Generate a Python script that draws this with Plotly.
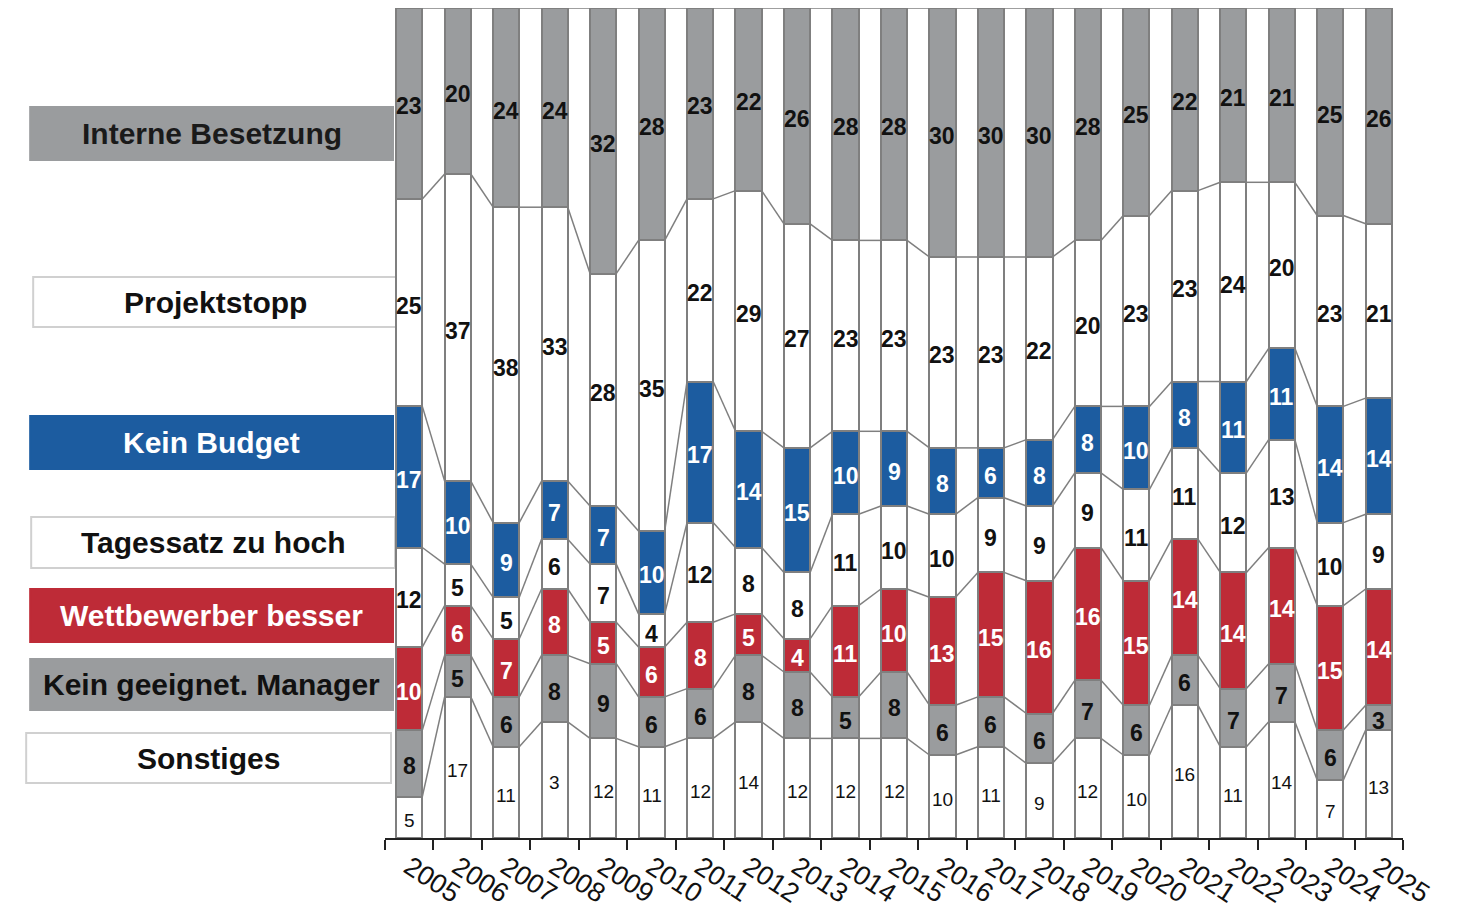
import plotly.graph_objects as go

# ---------------- data (bottom -> top) ----------------
years = [str(y) for y in range(2005, 2026)]
sonstiges = [5, 17, 11, 14, 12, 11, 12, 14, 12, 12, 12, 10, 11, 9, 12, 10, 16, 11, 14, 7, 13]
sonstiges_labels = ["5", "17", "11", "3", "12", "11", "12", "14", "12", "12", "12",
                    "10", "11", "9", "12", "10", "16", "11", "14", "7", "13"]
manager = [8, 5, 6, 8, 9, 6, 6, 8, 8, 5, 8, 6, 6, 6, 7, 6, 6, 7, 7, 6, 3]
wettbewerber = [10, 6, 7, 8, 5, 6, 8, 5, 4, 11, 10, 13, 15, 16, 16, 15, 14, 14, 14, 15, 14]
tagessatz = [12, 5, 5, 6, 7, 4, 12, 8, 8, 11, 10, 10, 9, 9, 9, 11, 11, 12, 13, 10, 9]
budget = [17, 10, 9, 7, 7, 10, 17, 14, 15, 10, 9, 8, 6, 8, 8, 10, 8, 11, 11, 14, 14]
projektstopp = [25, 37, 38, 33, 28, 35, 22, 29, 27, 23, 23, 23, 23, 22, 20, 23, 23, 24, 20, 23, 21]
interne = [23, 20, 24, 24, 32, 28, 23, 22, 26, 28, 28, 30, 30, 30, 28, 25, 22, 21, 21, 25, 26]

series_names = ["Sonstiges", "Kein geeignet. Manager", "Wettbewerber besser",
                "Tagessatz zu hoch", "Kein Budget", "Projektstopp", "Interne Besetzung"]
series_values = [sonstiges, manager, wettbewerber, tagessatz, budget, projektstopp, interne]

# ---------------- styles ----------------
GRAY = "#9a9c9e"
BLUE = "#1c5ca0"
RED = "#be2b37"
WHITE = "#ffffff"
EDGE = "#7f7f7f"
FONT = "Liberation Sans, Arial, Helvetica, sans-serif"

fills = [WHITE, GRAY, RED, WHITE, BLUE, WHITE, GRAY]
label_colors = ["#111111", "#111111", "#ffffff", "#111111", "#ffffff", "#111111", "#111111"]
legend_text_colors = ["#111111", "#111111", "#ffffff", "#111111", "#ffffff", "#111111", "#1a1a1a"]
legend_borders = ["#d0d0d0", GRAY, RED, "#d0d0d0", BLUE, "#d0d0d0", GRAY]

BAR_W = 0.54
n = len(years)
xs = list(range(n))

fig = go.Figure()

# stacked bars
for name, vals, col in zip(series_names, series_values, fills):
    fig.add_trace(go.Bar(
        x=xs, y=vals, name=name, width=BAR_W,
        marker=dict(color=col, line=dict(color=EDGE, width=2)),
        showlegend=False, hoverinfo="skip",
    ))

# cumulative tops
cum = []
running = [0] * n
for vals in series_values:
    running = [r + v for r, v in zip(running, vals)]
    cum.append(list(running))

# series (connector) lines between adjacent bars
lx, ly = [], []
for level in cum:
    for i in range(n - 1):
        lx += [i + BAR_W / 2, i + 1 - BAR_W / 2, None]
        ly += [level[i], level[i + 1], None]
fig.add_trace(go.Scatter(x=lx, y=ly, mode="lines",
                         line=dict(color=EDGE, width=1.5),
                         showlegend=False, hoverinfo="skip"))

annotations = []

# segment labels (data coordinates)
bottoms = [[0] * n] + cum[:-1]
for k, (vals, bot) in enumerate(zip(series_values, bottoms)):
    for i, (v, b) in enumerate(zip(vals, bot)):
        if k == 0:
            txt = sonstiges_labels[i]
            f = dict(family=FONT, size=19, color=label_colors[k])
        else:
            txt = "<b>%d</b>" % v
            f = dict(family=FONT, size=23, color=label_colors[k])
        annotations.append(dict(x=i, y=b + v / 2, xref="x", yref="y", text=txt,
                                showarrow=False, xanchor="center", yanchor="middle",
                                yshift=-3, font=f))

# ---------------- legend boxes (left side) ----------------
# page pixel positions of the plotting area (page has an 8px body margin)
OFF = 8
PL, PR, PT, PB = 385, 1403.5, 8, 838
FW, FH = 1450, 903


def px_x(p):
    return (p - PL) / (PR - PL)


def px_y(p):
    return (PB - p) / (PB - PT)


boxes = {
    "Interne Besetzung": (30, 107, 393, 160),
    "Projektstopp": (33, 277, 397, 327),
    "Kein Budget": (30, 416, 393, 469),
    "Tagessatz zu hoch": (31, 517, 395, 568),
    "Wettbewerber besser": (30, 589, 393, 642),
    "Kein geeignet. Manager": (30, 659, 393, 710),
    "Sonstiges": (26, 733, 391, 783),
}
shapes = []
for k, name in enumerate(series_names):
    x0, y0, x1, y1 = boxes[name]
    shapes.append(dict(type="rect", xref="paper", yref="paper",
                       x0=px_x(x0), x1=px_x(x1), y0=px_y(y1), y1=px_y(y0),
                       fillcolor=fills[k], line=dict(color=legend_borders[k], width=2),
                       layer="below"))
    annotations.append(dict(xref="paper", yref="paper",
                            x=px_x((x0 + x1) / 2), y=px_y((y0 + y1) / 2),
                            text="<b>%s</b>" % name, showarrow=False,
                            xanchor="center", yanchor="middle",
                            font=dict(family=FONT, size=30, color=legend_text_colors[k])))

fig.update_layout(
    width=FW, height=FH,
    margin=dict(l=PL - OFF, r=OFF + FW - PR, t=PT - OFF, b=OFF + FH - PB, pad=0,
                autoexpand=False),
    paper_bgcolor="white", plot_bgcolor="white",
    barmode="stack", bargap=0,
    shapes=shapes, annotations=annotations,
    font=dict(family=FONT, color="#111111"),
    xaxis=dict(
        range=[-0.5, n - 0.5], tickmode="array", tickvals=xs, ticktext=years,
        tickangle=33, ticks="", ticklabelstandoff=1, automargin=False,
        showline=True, linecolor="#222222", linewidth=1.5,
        showgrid=False, zeroline=False, tickfont=dict(family=FONT, size=27, color="#111111"),
        minor=dict(tickmode="array", tickvals=[i - 0.5 for i in range(n + 1)],
                   ticks="outside", ticklen=10, tickwidth=1.5, tickcolor="#222222", showgrid=False),
        fixedrange=True,
    ),
    yaxis=dict(range=[0, 100], visible=False, fixedrange=True, automargin=False),
)

fig.write_html("out.html")
